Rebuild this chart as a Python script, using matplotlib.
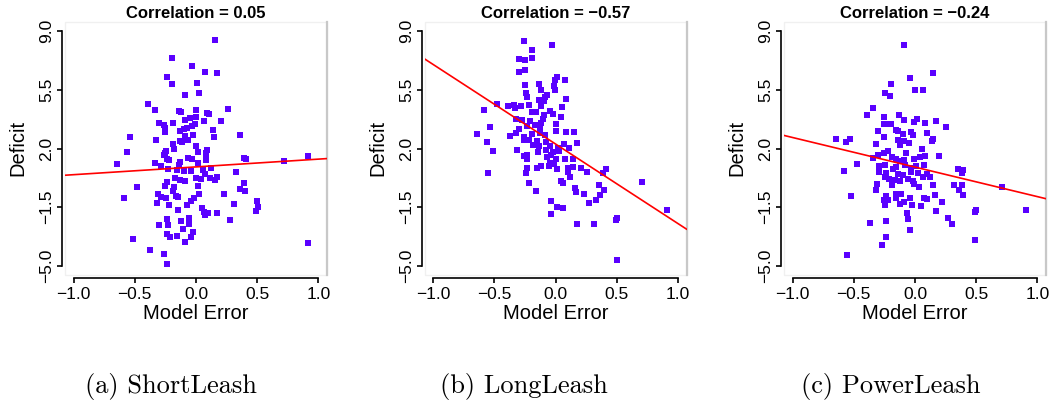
import matplotlib
matplotlib.use("Agg")
import matplotlib.pyplot as plt
from matplotlib.patches import Rectangle

plt.rcParams['font.family'] = ['Liberation Sans', 'DejaVu Sans']

# ShortLeash: model error vs deficit
short_x = [0.154, -0.195, -0.033, 0.073, 0.171, -0.236, -0.195, 0.008, -0.089, 0.024,
           -0.390, -0.333, -0.138, -0.122, 0.000, 0.089, 0.108, 0.260, 0.000, -0.049,
           -0.089, 0.065, 0.203, -0.301, -0.260, -0.187, -0.008, -0.033, -0.073, -0.252,
           -0.252, -0.130, -0.098, 0.138, -0.024, -0.089, 0.146, 0.358, -0.537, -0.325,
           -0.130, -0.065, -0.114, -0.187, 0.000, -0.179, -0.561, -0.244, -0.260, -0.252,
           0.016, 0.081, 0.089, 0.081, 0.081, -0.065, -0.033, -0.236, -0.220, -0.642,
           -0.333, -0.285, -0.130, -0.138, 0.016, 0.390, 0.407, 0.715, 0.911, -0.228,
           -0.154, -0.098, -0.041, 0.057, 0.122, 0.073, 0.325, -0.171, -0.130, -0.089,
           0.000, 0.041, 0.114, 0.154, 0.171, -0.236, -0.252, -0.179, 0.016, -0.480,
           0.390, 0.358, 0.398, -0.187, 0.228, 0.024, -0.309, -0.585, -0.285, -0.244,
           -0.163, -0.146, -0.016, -0.041, -0.317, -0.220, -0.073, 0.309, 0.496, 0.504,
           0.488, -0.146, 0.049, 0.065, 0.073, 0.098, 0.171, -0.236, -0.122, -0.057,
           -0.057, 0.276, -0.301, -0.228, -0.106, -0.236, -0.211, -0.154, -0.024, -0.041,
           -0.089, -0.512, -0.374, -0.260, -0.236, 0.911]
short_y = [8.48, 7.41, 6.93, 6.57, 6.51, 6.27, 5.86, 5.92, 5.20, 5.32,
           4.66, 4.31, 4.25, 4.19, 4.31, 4.13, 4.07, 4.37, 3.89, 3.83,
           3.71, 3.65, 3.65, 3.53, 3.41, 3.53, 3.47, 3.35, 3.23, 3.23,
           2.99, 3.05, 3.17, 3.11, 2.82, 2.76, 2.70, 2.82, 2.70, 2.52,
           2.46, 2.52, 2.40, 2.28, 2.16, 1.98, 1.80, 1.86, 1.62, 1.74,
           1.80, 1.74, 1.94, 1.56, 1.32, 1.44, 1.38, 1.38, 1.32, 1.09,
           1.15, 0.97, 1.20, 1.03, 1.15, 1.44, 1.38, 1.28, 1.58, 0.79,
           0.73, 0.67, 0.67, 0.73, 0.85, 0.49, 0.61, 0.25, 0.13, 0.07,
           0.25, 0.19, 0.25, 0.13, 0.31, 0.01, -0.23, -0.29, -0.23, -0.29,
           -0.05, -0.41, -0.52, -0.52, -0.70, -0.70, -0.70, -0.94, -0.88, -0.94,
           -0.82, -0.88, -0.94, -1.12, -1.24, -1.36, -1.36, -1.30, -1.12, -1.48,
           -1.72, -1.66, -1.54, -1.78, -1.96, -1.84, -1.84, -2.19, -2.31, -2.14,
           -2.49, -2.25, -2.55, -2.55, -2.79, -3.09, -3.27, -3.21, -2.97, -3.27,
           -3.57, -3.39, -4.04, -4.28, -4.88, -3.67]

# LongLeash
long_x = [-0.257, -0.030, -0.192, -0.298, -0.249, -0.192, -0.249, -0.298, 0.011, -0.005,
          0.076, -0.249, -0.136, -0.014, -0.005, -0.119, -0.241, -0.233, -0.070, -0.087,
          -0.136, -0.095, 0.084, -0.477, -0.583, -0.388, -0.339, -0.331, -0.282, -0.217,
          -0.119, 0.051, -0.192, -0.160, -0.046, -0.022, -0.095, 0.043, -0.322, -0.274,
          -0.209, -0.119, -0.103, 0.003, -0.534, -0.298, -0.233, -0.168, -0.127, 0.003,
          0.084, 0.149, -0.640, -0.371, -0.322, -0.257, -0.192, -0.127, -0.087, -0.257,
          -0.217, -0.152, -0.079, -0.558, 0.173, -0.184, -0.136, -0.046, 0.019, 0.068,
          0.108, -0.509, -0.314, -0.144, -0.079, -0.022, 0.027, -0.257, -0.233, -0.070,
          -0.038, 0.003, -0.233, 0.076, 0.141, -0.046, -0.152, -0.119, -0.054, -0.014,
          0.011, -0.233, -0.241, -0.550, 0.100, 0.141, 0.206, 0.255, 0.100, 0.117,
          0.385, 0.409, 0.043, 0.060, -0.217, -0.160, 0.157, 0.165, 0.230, 0.352,
          0.393, 0.360, 0.328, 0.271, -0.038, 0.011, 0.060, -0.038, 0.710, 0.913,
          0.499, 0.491, 0.173, 0.312, 0.499]
long_y = [8.42, 8.18, 7.88, 7.35, 7.29, 7.41, 6.69, 6.57, 6.27, 6.10,
          6.10, 5.80, 5.86, 5.74, 5.50, 5.50, 5.32, 5.08, 5.20, 5.08,
          4.90, 4.84, 4.96, 4.66, 4.31, 4.54, 4.60, 4.43, 4.54, 4.60,
          4.54, 4.49, 4.19, 4.19, 4.25, 4.07, 4.01, 3.89, 3.77, 3.71,
          3.65, 3.53, 3.77, 3.47, 3.29, 3.17, 3.35, 3.41, 3.23, 3.05,
          2.99, 2.99, 2.87, 2.76, 2.93, 2.70, 2.87, 2.93, 2.82, 2.52,
          2.52, 2.46, 2.40, 2.40, 2.34, 2.22, 2.16, 2.16, 2.04, 2.28,
          2.04, 1.86, 1.92, 1.80, 1.92, 1.80, 1.86, 1.56, 1.62, 1.50,
          1.62, 1.38, 1.38, 1.38, 1.38, 1.15, 0.85, 0.97, 0.97, 1.09,
          0.79, 0.85, 0.55, 0.55, 0.85, 0.91, 0.85, 0.61, 0.61, 0.31,
          0.55, 0.79, 0.07, -0.05, -0.05, -0.52, -0.35, -0.58, -0.70, -0.17,
          -0.47, -0.76, -1.06, -1.24, -1.12, -1.48, -1.54, -1.90, 0.01, -1.66,
          -2.14, -2.25, -2.49, -2.49, -4.64]

# PowerLeash
power_x = [-0.087, 0.149, -0.038, -0.192, -0.241, -0.201, 0.003, 0.068, -0.339, -0.388,
           -0.257, -0.127, 0.019, -0.087, -0.005, 0.084, 0.173, 0.255, -0.257, -0.233,
           -0.192, -0.306, -0.257, -0.152, -0.136, -0.095, -0.030, -0.014, 0.100, -0.648,
           -0.566, -0.534, -0.322, -0.136, -0.119, -0.087, -0.046, 0.141, 0.149, 0.060,
           -0.217, -0.257, -0.306, -0.339, -0.070, -0.184, -0.152, -0.119, -0.087, -0.005,
           0.043, 0.084, 0.198, -0.477, -0.583, -0.298, -0.249, -0.152, -0.176, -0.079,
           -0.030, 0.011, 0.076, -0.290, -0.233, -0.136, -0.095, -0.030, 0.027, 0.068,
           0.100, 0.125, 0.352, 0.393, 0.385, -0.249, -0.209, -0.160, -0.119, -0.054,
           -0.014, -0.005, 0.035, -0.184, -0.314, -0.322, 0.149, 0.320, 0.385, 0.360,
           0.393, 0.710, -0.520, -0.233, -0.152, -0.111, -0.257, -0.217, -0.152, -0.087,
           -0.038, 0.076, 0.100, 0.165, 0.220, -0.241, -0.119, -0.022, 0.051, 0.173,
           -0.062, -0.054, 0.271, 0.304, 0.499, 0.491, 0.905, -0.371, -0.233, -0.038,
           -0.233, -0.266, 0.491, -0.553]
power_y = [8.18, 6.51, 6.21, 5.86, 5.32, 5.14, 5.50, 5.50, 4.43, 4.01,
           3.89, 4.01, 3.77, 3.71, 3.59, 3.53, 3.65, 3.29, 3.47, 3.47,
           3.47, 3.05, 2.70, 3.11, 3.05, 2.87, 2.99, 2.82, 2.93, 2.58,
           2.40, 2.58, 2.28, 2.52, 2.22, 2.46, 2.34, 2.46, 2.58, 1.98,
           1.86, 1.74, 1.62, 1.44, 1.74, 1.50, 1.38, 1.26, 1.32, 1.38,
           1.50, 1.56, 1.56, 1.09, 0.67, 0.97, 1.03, 0.91, 0.79, 1.03,
           0.85, 0.97, 1.03, 0.61, 0.55, 0.49, 0.43, 0.61, 0.55, 0.31,
           0.49, 0.31, 0.79, 0.73, 0.55, 0.31, 0.19, 0.13, 0.07, 0.19,
           0.07, -0.11, -0.29, -0.17, -0.11, -0.47, -0.17, -0.17, -0.17, -0.47,
           -0.76, -0.29, -0.82, -0.82, -0.70, -0.70, -1.06, -1.06, -0.94, -1.18,
           -0.94, -0.94, -1.00, -0.76, -1.18, -1.36, -1.30, -1.36, -1.42, -1.72,
           -1.84, -2.19, -2.14, -2.49, -1.66, -1.78, -1.66, -2.43, -2.31, -2.85,
           -3.27, -3.75, -3.45, -4.34]

# regression lines (intercept, slope)
fit_intercepts = [0.90, 2.27, 0.89]
fit_slopes = [0.465, -4.755, -1.767]

titles = ["Correlation = 0.05", "Correlation = \u22120.57", "Correlation = \u22120.24"]
captions = ["(a) ShortLeash", "(b) LongLeash", "(c) PowerLeash"]
caption_x = [171, 524, 891]
xticks = [-1.0, -0.5, 0.0, 0.5, 1.0]
yticks = [-5.0, -1.5, 2.0, 5.5, 9.0]

xs = [short_x, long_x, power_x]
ys = [short_y, long_y, power_y]

W, H = 1052, 404
fig = plt.figure(figsize=(W / 100, H / 100), dpi=100)

for i in range(3):
    left = 65 + 359.5 * i
    ax = fig.add_axes([left / W, 1 - 275 / H, 262 / W, 253 / H])
    ax.set_xlim(-1.07, 1.07)
    ax.set_ylim(-5.56, 9.56)
    ax.plot(xs[i], ys[i], 's', color='#5a00ff', markersize=4.8,
            markeredgewidth=0, zorder=3)
    ax.axline((0, fit_intercepts[i]), slope=fit_slopes[i], color='#ff0000',
              lw=1.2, zorder=4)

    for side in ['top', 'right']:
        ax.spines[side].set_visible(False)
    ax.spines['left'].set_bounds(-5, 9)
    ax.spines['bottom'].set_bounds(-1, 1)
    ax.spines['left'].set_position(('outward', 2))
    ax.spines['bottom'].set_position(('outward', 2))
    for side in ['left', 'bottom']:
        ax.spines[side].set_linewidth(1.2)
    # faint box of the plot image
    ax.add_patch(Rectangle((0, 0), 1, 1, transform=ax.transAxes, fill=False,
                           edgecolor='#f0f0f0', lw=1, clip_on=False, zorder=0))
    ax.plot([1, 1], [0, 1], transform=ax.transAxes, color='#c8c8c8', lw=1.6,
            clip_on=False, zorder=1)

    ax.set_xticks(xticks)
    ax.set_yticks(yticks)
    ax.set_xticklabels([f"{v:.1f}".replace('-', '\u2212') for v in xticks])
    ax.set_yticklabels([f"{v:.1f}".replace('-', '\u2212') for v in yticks],
                       rotation=90, va='center')
    ax.tick_params(axis='both', length=3.5, width=1.2, labelsize=12.5)
    ax.tick_params(axis='x', pad=3)
    ax.tick_params(axis='y', pad=2)

    ax.text(0.5, 1.032, titles[i], transform=ax.transAxes, ha='center',
            va='center', fontsize=12, fontweight='bold')
    ax.text(-0.179, 0.502, "Deficit", transform=ax.transAxes, ha='center',
            va='center', rotation=90, fontsize=14.5)
    ax.text(0.5, -0.152, "Model Error", transform=ax.transAxes, ha='center',
            va='center', fontsize=14.5)

    fig.text(caption_x[i] / W, 1 - 386 / H, captions[i], ha='center',
             va='center', fontsize=19, family='cmr10')

fig.savefig("out.png", dpi=100)
